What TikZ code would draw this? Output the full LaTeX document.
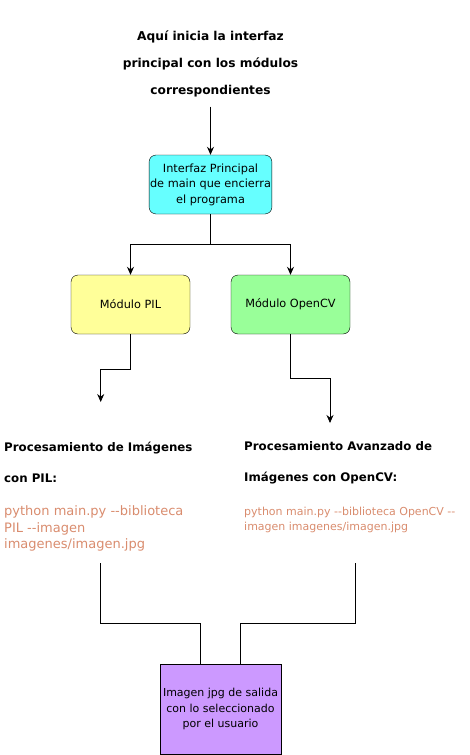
\documentclass[tikz,border=0pt]{standalone}
\usepackage{fontspec}
\setmainfont{DejaVu Sans}
\usetikzlibrary{arrows.meta}
\definecolor{cian}{HTML}{66FFFF}
\definecolor{amarillo}{HTML}{FFFF99}
\definecolor{verde}{HTML}{99FF99}
\definecolor{lila}{HTML}{CC99FF}
\definecolor{naranja}{HTML}{D98C6E}
\tikzstyle{modulo}=[draw, thin, rounded corners=7pt, minimum width=119pt, minimum height=59pt, align=center, inner sep=1pt, font=\fontsize{11.3}{15.5}\selectfont]
\tikzstyle{titulo}=[align=center, font=\bfseries\fontsize{12.2}{27}\selectfont]
\tikzstyle{encabezado}=[anchor=west, align=left, inner sep=0pt, font=\bfseries\fontsize{11.8}{31}\selectfont]
\tikzstyle{comando}=[anchor=west, align=left, inner sep=0pt, text=naranja]
\tikzstyle{flecha}=[-{Stealth[length=8pt,width=7pt]}, line width=0.8pt]
\tikzstyle{linea}=[line width=0.8pt]

\begin{document}
\begin{tikzpicture}[x=1pt,y=-1pt]
    \useasboundingbox (0,0) rectangle (470,755);
    % Titulo de arriba
    \node[titulo] (titulo) at (210.5,64) {Aquí inicia la interfaz\\principal con los módulos\\correspondientes};

    % Interfaz y modulos
    \node[modulo, fill=cian] (main) at (210.5,184.5) {Interfaz Principal\\de main que encierra\\el programa};
    \node[modulo, fill=amarillo] (pil) at (130.5,304.5) {Módulo PIL};
    \node[modulo, fill=verde] (cv) at (290.5,304.5) {Módulo OpenCV};

    % Textos de procesamiento
    \node[encabezado] (pilhead) at (4,462.5) {Procesamiento de Imágenes\\con PIL:};
    \node[comando, font=\fontsize{13}{16.5}\selectfont] (pilcmd) at (4,528.5) {python main.py -{}-biblioteca\\PIL -{}-imagen\\imagenes/imagen.jpg};
    \node[encabezado] (cvhead) at (244,462.5) {Procesamiento Avanzado de\\Imágenes con OpenCV:};
    \node[comando, font=\fontsize{11}{15}\selectfont] (cvcmd) at (244,519.5) {python main.py -{}-biblioteca OpenCV -{}-\\imagen imagenes/imagen.jpg};

    % Salida
    \node[draw, thin, fill=lila, minimum width=121pt, minimum height=90pt, align=center, inner sep=1pt, font=\fontsize{11}{15.5}\selectfont] (out) at (220.5,709) {Imagen jpg de salida\\con lo seleccionado\\por el usuario};

    % Puntos sueltos
    \coordinate (pilfin) at (100.7,402);
    \coordinate (cvfin) at (330,423);
    \coordinate (pilbase) at (100.7,563);
    \coordinate (cvbase) at (355.5,563);

    % Conexiones
    \draw[flecha] ([yshift=-6pt]titulo.south) -- (main.north);
    \draw[flecha] (main.south) -- ++(0,30) -| (pil.north);
    \draw[flecha] (main.south) -- ++(0,30) -| (cv.north);
    \draw[flecha] (pil.south) -- ++(0,35) -| (pilfin);
    \draw[flecha] (cv.south) -- ++(0,44) -| (cvfin);
    \draw[linea] (pilbase) -- ++(0,60) -| ([xshift=-20pt]out.north);
    \draw[linea] (cvbase) -- ++(0,60) -| ([xshift=20pt]out.north);
\end{tikzpicture}
\end{document}
